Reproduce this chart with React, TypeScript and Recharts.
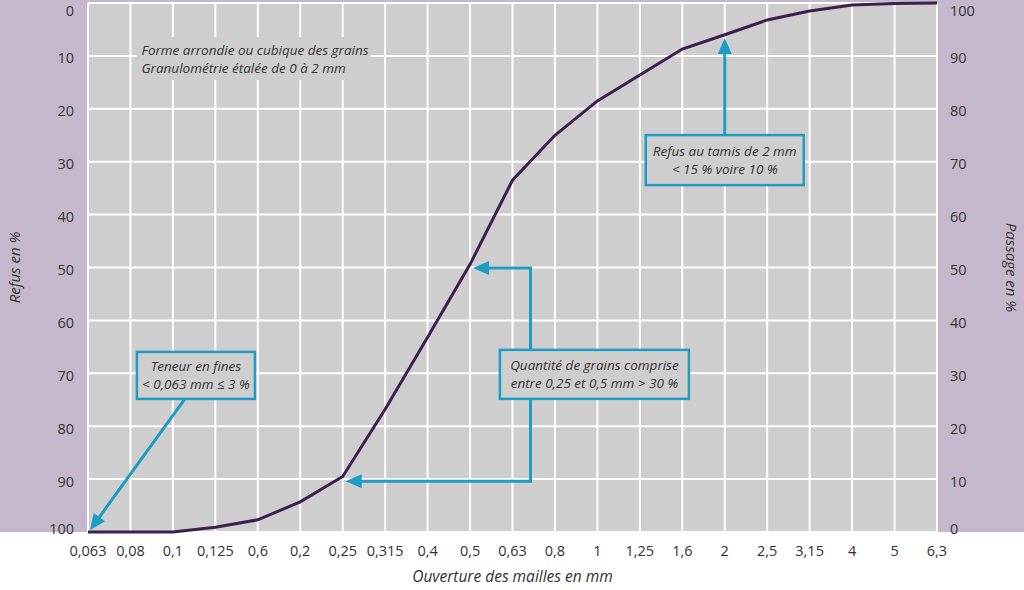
import React from "react"
import { LineChart, Line, XAxis, YAxis, CartesianGrid, ReferenceDot, ReferenceLine } from "recharts"

const sieveSizes = ["0,063", "0,08", "0,1", "0,125", "0,6", "0,2", "0,25", "0,315", "0,4", "0,5", "0,63", "0,8", "1", "1,25", "1,6", "2", "2,5", "3,15", "4", "5", "6,3"]
const refusValues = [100, 100, 100, 99.1, 97.7, 94.3, 89.5, 76.8, 63.2, 49.4, 33.5, 25, 18.5, 13.6, 8.7, 6, 3.2, 1.5, 0.4, 0.1, 0]
const refusTicks = [0, 10, 20, 30, 40, 50, 60, 70, 80, 90, 100]
const passageTicks = [0, 10, 20, 30, 40, 50, 60, 70, 80, 90, 100]

const data = sieveSizes.map((size, i) => ({ size, refus: refusValues[i] }))

const FONT = "'Open Sans', sans-serif"
const CYAN = "#1d9cc4"
const GRAY = "#cecece"
const PURPLE = "#c6b8cc"
const TEXT = "#333333"

const arrowHead = (tx: number, ty: number, fx: number, fy: number) => {
  const dx = tx - fx
  const dy = ty - fy
  const len = Math.sqrt(dx * dx + dy * dy) || 1
  const ux = dx / len
  const uy = dy / len
  const L = 16
  const W = 7
  const bx = tx - ux * L
  const by = ty - uy * L
  return `${tx},${ty} ${bx - uy * W},${by + ux * W} ${bx + uy * W},${by - ux * W}`
}

// box with two lines of italic text, centered at (cx + dx, cy)
const noteBox = (lines: string[], w: number, h: number, dx: number, border = true, align: "middle" | "start" = "middle") =>
  (props: any) => {
    const { cx, cy } = props
    const left = cx + dx - w / 2
    const tx = align === "middle" ? cx + dx : left + 5
    return (
      <g>
        <rect x={left} y={cy - h / 2} width={w} height={h} fill={GRAY} stroke={border ? CYAN : "none"} strokeWidth={2.5} />
        {lines.map((t, i) => (
          <text key={i} x={tx} y={cy + (i - (lines.length - 1) / 2) * 18} textAnchor={align} dominantBaseline="central"
            fontFamily={FONT} fontStyle="italic" fontSize={13.5} fill={TEXT}>{t}</text>
        ))}
      </g>
    )
  }

const straightArrow = (sx: number, sy: number) => (p: any) => {
  const x0 = p.x2 + sx, y0 = p.y2 + sy
  const tx = p.x1 + 2, ty = p.y1 - 2
  return (
    <g>
      <line x1={x0} y1={y0} x2={tx - (tx - x0) * 0.08} y2={ty - (ty - y0) * 0.08} stroke={CYAN} strokeWidth={3} />
      <polygon points={arrowHead(tx, ty, x0, y0)} fill={CYAN} />
    </g>
  )
}

const elbowArrow = (sx: number) => (p: any) => {
  const x0 = p.x2 + sx
  const tx = p.x1 + 3
  return (
    <g>
      <path d={`M${x0},${p.y2} V${p.y1} H${tx + 12}`} fill="none" stroke={CYAN} strokeWidth={3} />
      <polygon points={arrowHead(tx, p.y1, x0, p.y1)} fill={CYAN} />
    </g>
  )
}

const upArrow = (p: any) => (
  <g>
    <line x1={p.x2} y1={p.y2} x2={p.x1} y2={p.y1 + 12} stroke={CYAN} strokeWidth={3} />
    <polygon points={arrowHead(p.x1, p.y1, p.x2, p.y2)} fill={CYAN} />
  </g>
)

const tickStyle = { fill: TEXT, fontSize: 14.5, fontFamily: FONT }

// y tick: the labels at the plot edges are pulled inward so they are not cut
const yTick = (topValue: number, bottomValue: number) => (props: any) => {
  const { x, y, payload, textAnchor } = props
  const v = payload.value
  const shift = v === topValue ? 7 : v === bottomValue ? -4 : 2
  return (
    <text x={x} y={y + shift} textAnchor={textAnchor} dominantBaseline="central" fill={TEXT} fontSize={14.5} fontFamily={FONT}>{v}</text>
  )
}

export default function App() {
  return (
    <div style={{ width: 1024, height: 590, background: `linear-gradient(to bottom, ${PURPLE} 0px, ${PURPLE} 532px, #ffffff 532px)` }}>
      <style>{`body{margin:0}`}</style>
      <LineChart width={1024} height={590} data={data} margin={{ top: 3, right: 0, left: 0, bottom: 0 }}>
        <CartesianGrid fill={GRAY} fillOpacity={1} stroke="#ffffff" strokeWidth={2} />
        <XAxis dataKey="size" height={58} tickLine={false} axisLine={false} interval={0} tickSize={6} tickMargin={8}
          tick={tickStyle}
          label={{ value: "Ouverture des mailles en mm", position: "insideBottom", offset: 8, fill: TEXT, fontSize: 15.5, fontStyle: "italic", fontFamily: FONT }} />
        <YAxis width={88} reversed domain={[0, 100]} ticks={refusTicks} interval={0} tickLine={false} axisLine={false} tickSize={6} tickMargin={8}
          tick={yTick(0, 100)}
          label={{
            content: ({ viewBox }: any) => {
              const cx = viewBox.x + 14
              const cy = viewBox.y + viewBox.height / 2
              return <text x={cx} y={cy} transform={`rotate(-90 ${cx} ${cy})`} textAnchor="middle" dominantBaseline="central"
                fontFamily={FONT} fontStyle="italic" fontSize={15} fill={TEXT}>Refus en %</text>
            },
          }} />
        <YAxis yAxisId="right" orientation="right" width={87} domain={[0, 100]} ticks={passageTicks} interval={0} tickLine={false} axisLine={false}
          tickSize={6} tickMargin={7} tick={yTick(100, 0)}
          label={{
            content: ({ viewBox }: any) => {
              const cx = viewBox.x + viewBox.width - 12
              const cy = viewBox.y + viewBox.height / 2
              return <text x={cx} y={cy} transform={`rotate(90 ${cx} ${cy})`} textAnchor="middle" dominantBaseline="central"
                fontFamily={FONT} fontStyle="italic" fontSize={15} fill={TEXT}>Passage en %</text>
            },
          }} />
        <Line dataKey="refus" type="linear" stroke="#3d1f4f" strokeWidth={3} dot={false} isAnimationActive={false} />
        <Line yAxisId="right" dataKey="refus" stroke="none" strokeOpacity={0} dot={false} activeDot={false} legendType="none" isAnimationActive={false} />

        <ReferenceLine segment={[{ x: "0,063", y: 100 }, { x: "0,1", y: 75.2 }]} ifOverflow="visible" shape={straightArrow(12, -2)} />
        <ReferenceLine segment={[{ x: "0,5", y: 50.1 }, { x: "0,63", y: 65.5 }]} ifOverflow="visible" shape={elbowArrow(18)} />
        <ReferenceLine segment={[{ x: "0,25", y: 90.4 }, { x: "0,63", y: 75 }]} ifOverflow="visible" shape={elbowArrow(18)} />
        <ReferenceLine segment={[{ x: "2", y: 6.6 }, { x: "2", y: 25 }]} ifOverflow="visible" shape={upArrow} />

        <ReferenceDot x="0,08" y={10.5} ifOverflow="visible"
          shape={noteBox(["Forme arrondie ou cubique des grains", "Granulométrie étalée de 0 à 2 mm"], 234, 43, 123, false, "start")} />
        <ReferenceDot x="0,1" y={70.4} ifOverflow="visible"
          shape={noteBox(["Teneur en fines", "< 0,063 mm ≤ 3 %"], 118, 47, 23)} />
        <ReferenceDot x="1" y={70.2} ifOverflow="visible"
          shape={noteBox(["Quantité de grains comprise", "entre 0,25 et 0,5 mm > 30 %"], 189, 49, -3)} />
        <ReferenceDot x="2" y={29.7} ifOverflow="visible"
          shape={noteBox(["Refus au tamis de 2 mm", "< 15 % voire 10 %"], 158, 50, 0)} />
      </LineChart>
    </div>
  )
}
